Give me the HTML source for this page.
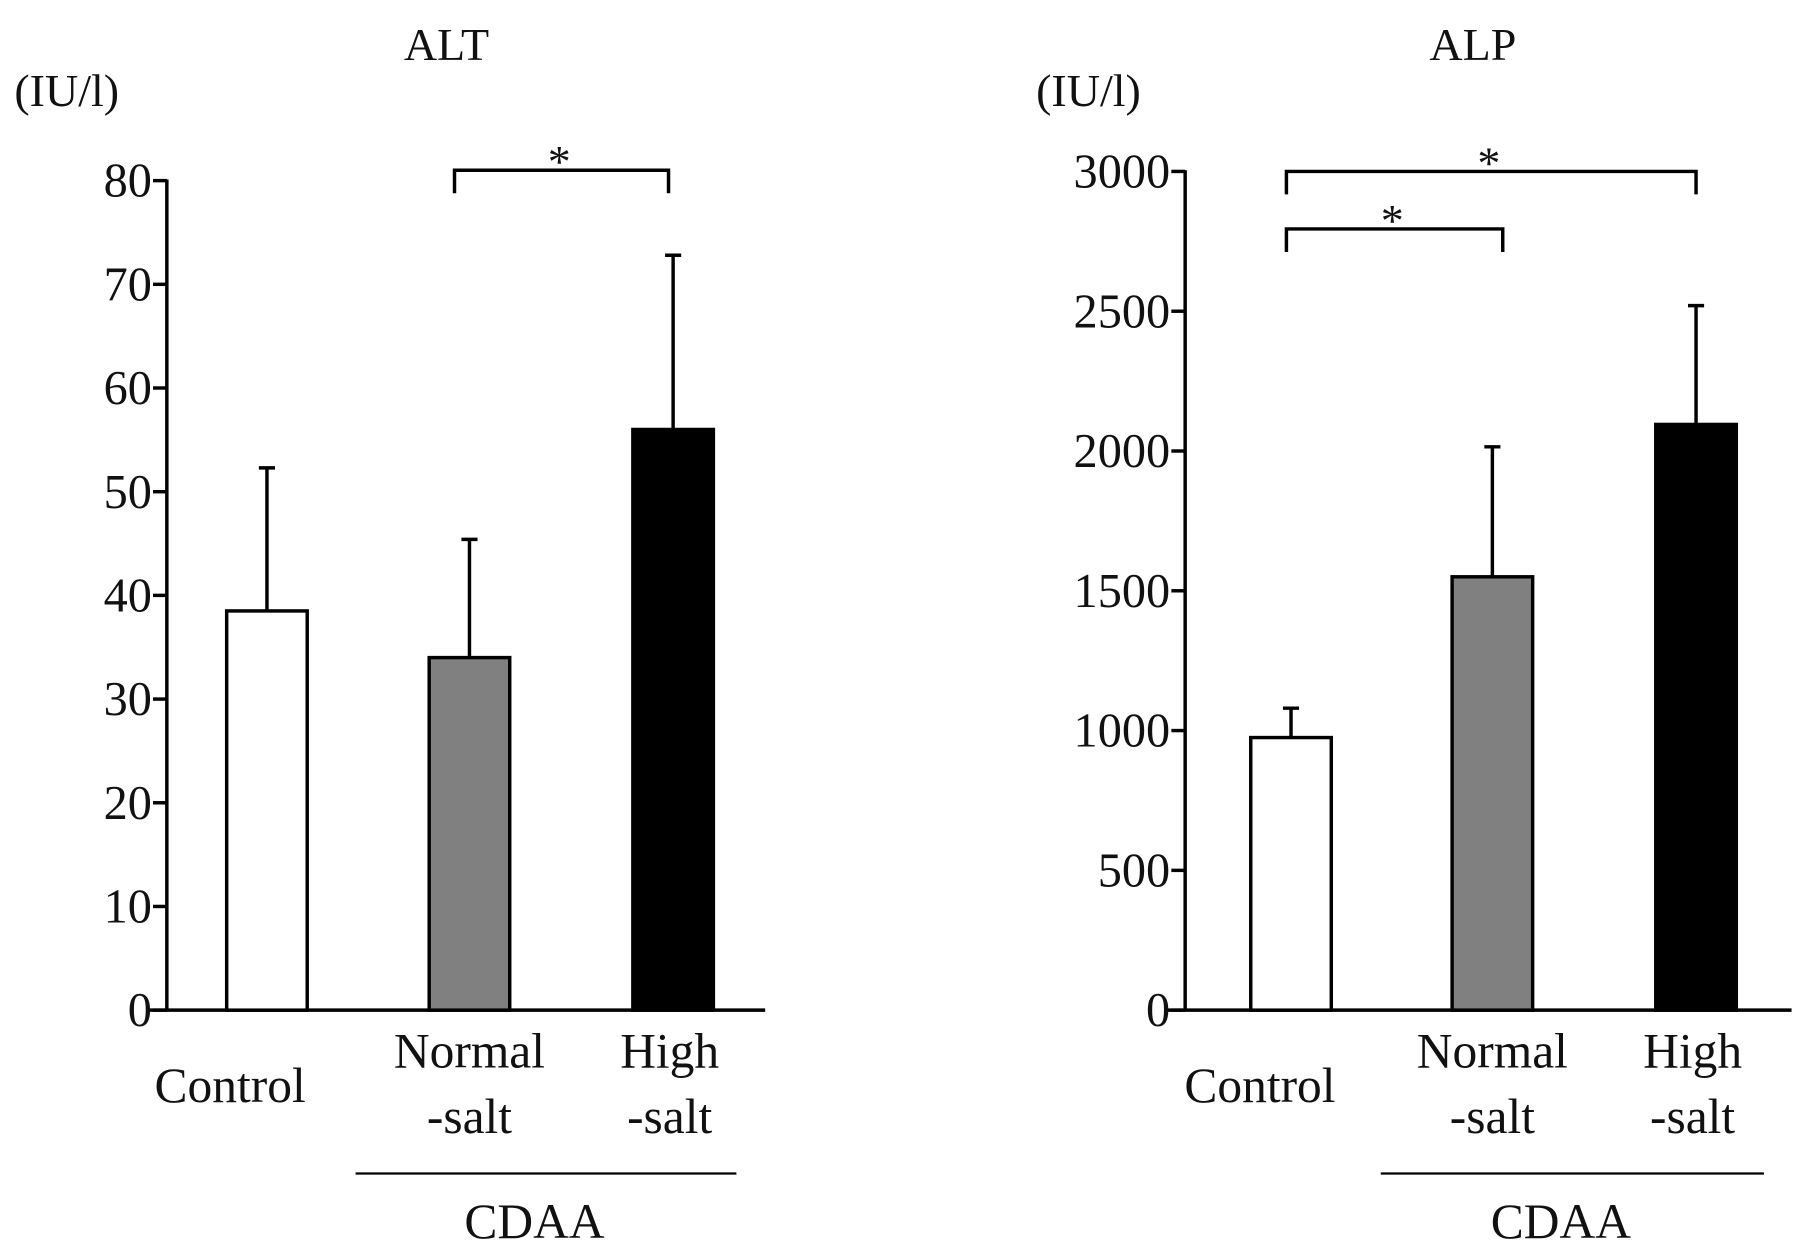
<!DOCTYPE html>
<html><head><style>html,body{margin:0;padding:0;background:#fff;overflow:hidden}svg{display:block}text{font-family:"Liberation Serif",serif;fill:#111}</style></head>
<body>
<svg id="c" width="1795" height="1246" viewBox="0 0 1560 1083" preserveAspectRatio="none" xmlns="http://www.w3.org/2000/svg"></svg>
<script>
const categories = ["Control","Normal-salt","High-salt"];
const altValues = [38.5, 34, 56];
const altErrors = [52.3, 45.4, 72.8];
const altTicks = [0,10,20,30,40,50,60,70,80];
const alpValues = [975, 1550, 2095];
const alpErrors = [1080, 2015, 2520];
const alpTicks = [0,500,1000,1500,2000,2500,3000];
const fills = ["#ffffff","#808080","#000000"];
const NS="http://www.w3.org/2000/svg";
const svg=document.getElementById('c');
function mk(tag,attrs,parent){const e=document.createElementNS(NS,tag);for(const k in attrs)e.setAttribute(k,attrs[k]);(parent||svg).appendChild(e);return e;}
function txt(s,x,y,size,anchor,name,parent){const t=mk('text',{x:x,y:y,'font-size':size,'text-anchor':anchor||'middle'},parent);t.textContent=s;


return t;}
function panel(o){
  const g=mk('g',{});
  
  
  const y=v=>o.y0-(v/o.max)*(o.y0-o.yTop);
  txt(o.title,o.titleX,52,40,'middle','chart-title',g);
  txt('(IU/l)',o.unitX,92,40,'middle','y-axis-unit',g);
  const ax=mk('line',{x1:o.axX,y1:y(o.max)-1,x2:o.axX,y2:o.y0,stroke:'#000','stroke-width':3},g);
  
  
  const xa=mk('line',{x1:o.axX-15,y1:o.y0,x2:o.xEnd,y2:o.y0,stroke:'#000','stroke-width':3},g);
  
  
  o.ticks.forEach(t=>{
    const tl=mk('line',{x1:o.axX-12,y1:y(t),x2:o.axX,y2:y(t),stroke:'#000','stroke-width':3},g);
    
    
    txt(String(t),o.axX-13,y(t)+14,42,'end','y-tick-label',g);
  });
  o.values.forEach((v,i)=>{
    const cx=o.centers[i];
    const eb=mk('line',{x1:cx,y1:y(v),x2:cx,y2:y(o.errors[i]),stroke:'#000','stroke-width':3},g);
    
    
    const cap=mk('line',{x1:cx-7,y1:y(o.errors[i]),x2:cx+7,y2:y(o.errors[i]),stroke:'#000','stroke-width':3},g);
    
    
    const b=mk('rect',{x:cx-35,y:y(v),width:70,height:o.y0-y(v),fill:fills[i],stroke:'#000','stroke-width':3},g);
    
    
  });
  o.brackets.forEach(br=>{
    const p=mk('path',{d:`M${br[0]},${br[2]+20} V${br[2]} H${br[1]} V${br[2]+20}`,fill:'none',stroke:'#000','stroke-width':3},g);
    
    
    txt('*',(br[0]+br[1])/2-2,br[2]+6,40,'middle','significance-star',g);
  });
  txt('Control',o.centers[0]-32+o.ctrlShift,958,43,'middle','x-label-control',g);
  txt('Normal',o.centers[1],928,43,'middle','x-label-normal',g);
  txt('-salt',o.centers[1],985,43,'middle','x-label-normal-salt',g);
  txt('High',o.centers[2]-3,928,43,'middle','x-label-high',g);
  txt('-salt',o.centers[2]-3,985,43,'middle','x-label-high-salt',g);
  const cl=mk('line',{x1:o.cdaa[0],y1:1020,x2:o.cdaa[1],y2:1020,stroke:'#000','stroke-width':2},g);
  
  
  txt('CDAA',(o.cdaa[0]+o.cdaa[1])/2-10,1076,43,'middle','cdaa-group-label',g);
}
panel({name:'alt-panel',title:'ALT',titleX:388,unitX:58,axX:145,y0:878,yTop:157,max:80,xEnd:665,ticks:altTicks,values:altValues,errors:altErrors,centers:[232,408,585],brackets:[[395,581,148]],ctrlShift:0,cdaa:[309,640]});
panel({name:'alp-panel',title:'ALP',titleX:1280,unitX:946,axX:1030,y0:878,yTop:149,max:3000,xEnd:1557,ticks:alpTicks,values:alpValues,errors:alpErrors,centers:[1122,1297,1474],brackets:[[1118,1474,149],[1118,1306,199]],ctrlShift:5,cdaa:[1200,1533]});
</script>
</body></html>
